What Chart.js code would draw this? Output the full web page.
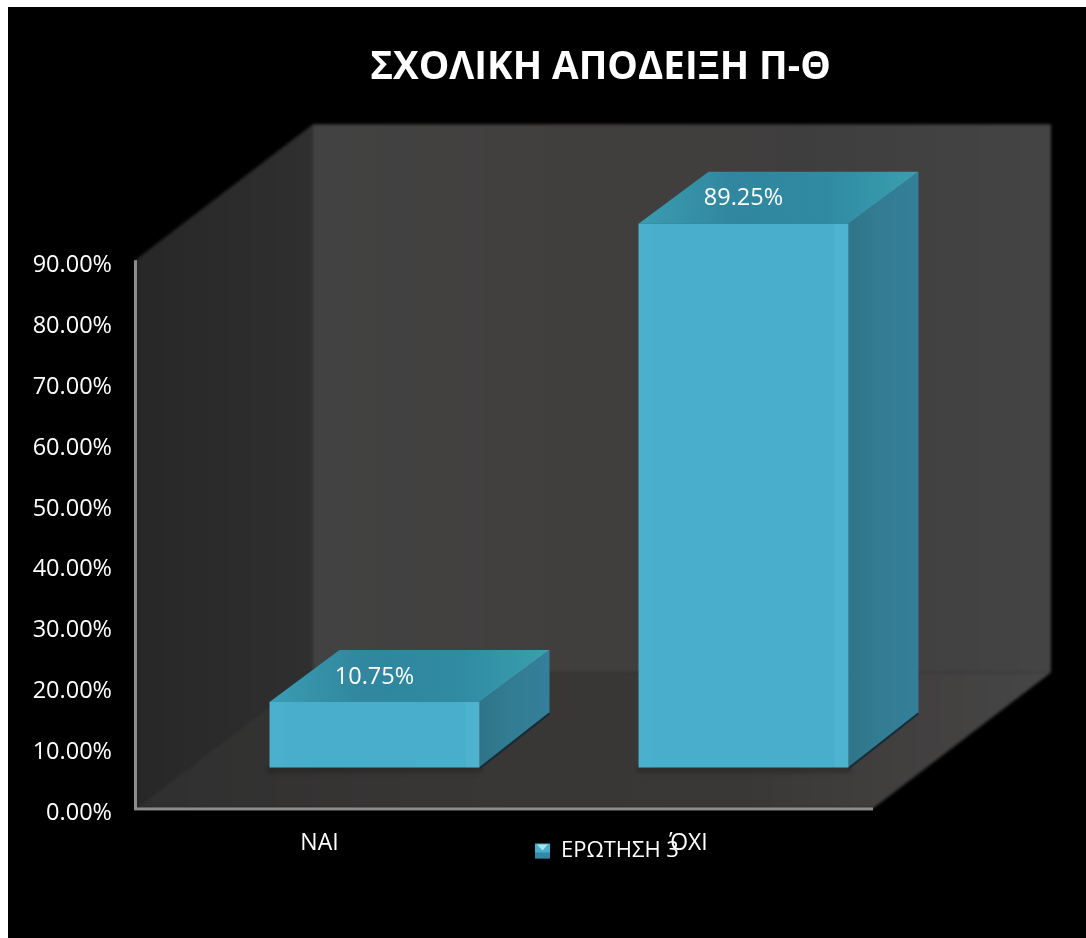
<!DOCTYPE html>
<html>
<head>
<meta charset="utf-8">
<title>ΣΧΟΛΙΚΗ ΑΠΟΔΕΙΞΗ Π-Θ</title>
<script src="https://cdn.jsdelivr.net/npm/chart.js"></script>
<style>
    html, body { margin: 0; padding: 0; background: #fff; }
    canvas { display: block; }
</style>
</head>
<body>
<canvas id="chart" width="1086" height="938"></canvas>
<script>
const titleText = 'ΣΧΟΛΙΚΗ ΑΠΟΔΕΙΞΗ Π-Θ';
const seriesName = 'ΕΡΩΤΗΣΗ 3';
const categories = ['ΝΑΙ', 'ΌΧΙ'];
const seriesValues = [10.75, 89.25];
const yMax = 90;
const yStep = 10;

const fontFamily = '"Open Sans", sans-serif';

// the fake 3D box: how far the back wall sits behind the axes
const wallDepthX = 178;
const wallDepthY = 136;
const wallLift = 5;       // floor line sits a little above the zero tick label
// where the bars stand on the floor, and how deep they are
const barShiftX = 55;
const barShiftY = -46;
const barDepthX = 70;
const barDepthY = 52;

function poly(ctx, pts, fill) {
    ctx.beginPath();
    pts.forEach((p, i) => i ? ctx.lineTo(p[0], p[1]) : ctx.moveTo(p[0], p[1]));
    ctx.closePath();
    ctx.fillStyle = fill;
    ctx.fill();
}

function hGrad(ctx, x0, x1, stops) {
    const g = ctx.createLinearGradient(x0, 0, x1, 0);
    stops.forEach((c, i) => g.addColorStop(i / (stops.length - 1), c));
    return g;
}

// black page block, leaves the thin white edge of the screenshot
const backdrop = {
    id: 'backdrop',
    beforeDraw(chart) {
        const ctx = chart.ctx;
        ctx.save();
        ctx.fillStyle = '#000';
        ctx.fillRect(8, 7, chart.width - 8, chart.height - 7);
        ctx.restore();
    }
};

// moves title and legend off their default spots
const placeBoxes = {
    id: 'placeBoxes',
    afterLayout(chart) {
        chart.titleBlock.left += 164;
        chart.titleBlock.right += 164;
        chart.legend.left = 535;
        chart.legend.top = 840;
    }
};

// back wall, side wall and floor, painted apart so the blur leaves no seams
const walls = {
    id: 'walls',
    beforeDatasetsDraw(chart) {
        const ctx = chart.ctx;
        const { left, right, top, bottom } = chart.chartArea;
        const t = top - wallLift;
        const b = bottom - wallLift;
        const dx = wallDepthX;
        const dy = wallDepthY;
        const layer = document.createElement('canvas');
        layer.width = chart.width;
        layer.height = chart.height;
        const wctx = layer.getContext('2d');
        poly(wctx, [[left + dx, t - dy], [right + dx, t - dy], [right + dx, b - dy], [left + dx, b - dy]],
            hGrad(wctx, left + dx, right + dx, ['#424242', '#413f3e', '#3f3e3e', '#454445']));
        poly(wctx, [[left, b], [right, b], [right + dx, b - dy], [left + dx, b - dy]],
            hGrad(wctx, left, right + dx, ['#2f2f2f', '#383635', '#3a3837', '#474646']));
        poly(wctx, [[left, t], [left + dx, t - dy], [left + dx, b - dy], [left, b]],
            hGrad(wctx, left, left + dx, ['#272727', '#2b2b2b', '#2f2f2f']));
        ctx.save();
        ctx.filter = 'blur(1.5px)';
        ctx.drawImage(layer, 0, 0);
        ctx.restore();
        // axis edges
        ctx.save();
        ctx.fillStyle = '#8c8c8c';
        ctx.fillRect(left - 1, t, 3, b - t + 1);
        ctx.fillRect(left - 1, b - 1, right - left + 1, 3);
        ctx.restore();
    }
};

// top and side of every bar, then shift the bar itself onto the floor
const bars3d = {
    id: 'bars3d',
    beforeDatasetDraw(chart, args) {
        const ctx = chart.ctx;
        ctx.save();
        args.meta.data.forEach(bar => {
            const x0 = bar.x - bar.width / 2 + barShiftX;
            const x1 = bar.x + bar.width / 2 + barShiftX;
            const y0 = bar.y + barShiftY;
            const y1 = bar.base + barShiftY;
            const dx = barDepthX;
            const dy = barDepthY;
            // dark contact shadow on the floor
            ctx.save();
            ctx.filter = 'blur(2px)';
            ctx.fillStyle = 'rgba(20,20,20,0.4)';
            ctx.fillRect(x0 - 2, y1, x1 - x0 + 4, 5);
            ctx.restore();
            poly(ctx, [[x1, y0], [x1 + dx, y0 - dy], [x1 + dx, y1 - dy - 3], [x1, y1]],
                hGrad(ctx, x1, x1 + dx, ['#2f7489', '#337d93', '#347f9a']));
            poly(ctx, [[x0, y0], [x1, y0], [x1 + dx, y0 - dy], [x0 + dx, y0 - dy]],
                hGrad(ctx, x0, x1 + dx, ['#3a9cb2', '#30879f', '#2f8aa2', '#3a9fb0']));
            // dark lower edge of the side face
            ctx.strokeStyle = 'rgba(12,40,56,0.8)';
            ctx.lineWidth = 2;
            ctx.beginPath();
            ctx.moveTo(x1, y1 + 1);
            ctx.lineTo(x1 + dx, y1 - dy - 2);
            ctx.stroke();
        });
        ctx.restore();
        ctx.save();
        ctx.translate(barShiftX, barShiftY);
    },
    afterDatasetDraw(chart, args) {
        const ctx = chart.ctx;
        ctx.restore();
        ctx.save();
        args.meta.data.forEach((bar, i) => {
            const x0 = bar.x - bar.width / 2 + barShiftX;
            const x1 = bar.x + bar.width / 2 + barShiftX;
            const y0 = bar.y + barShiftY;
            const y1 = bar.base + barShiftY;
            // lighter bevel along the right side of the front face
            ctx.fillStyle = 'rgba(120,220,235,0.12)';
            ctx.fillRect(x1 - 14, y0, 14, y1 - y0);
            ctx.fillStyle = 'rgba(120,220,235,0.06)';
            ctx.fillRect(x0, y0, 14, y1 - y0);
            // value labels sit on the top face
            ctx.font = '23.5px ' + fontFamily;
            ctx.fillStyle = '#fff';
            ctx.textAlign = 'center';
            ctx.textBaseline = 'middle';
            ctx.fillText(seriesValues[i].toFixed(2) + '%', bar.x + barShiftX, y0 - 25);
        });
        ctx.restore();
    }
};

// small bright notch on the legend swatch
const legendSwatch = {
    id: 'legendSwatch',
    afterDraw(chart) {
        const ctx = chart.ctx;
        const box = chart.legend.legendHitBoxes[0];
        const x = box.left;
        const y = box.top + (box.height - 15) / 2;
        ctx.save();
        poly(ctx, [[x + 2, y + 1], [x + 13, y + 1], [x + 7.5, y + 7]], '#a6e4ee');
        poly(ctx, [[x, y + 9], [x + 15, y + 9], [x + 15, y + 15], [x, y + 15]], 'rgba(30,90,120,0.45)');
        ctx.restore();
    }
};

new Chart(document.getElementById('chart'), {
    type: 'bar',
    data: {
        labels: categories,
        datasets: [{
            label: seriesName,
            data: seriesValues,
            backgroundColor: '#48aecb',
            borderWidth: 0,
            clip: false,
            barPercentage: 0.569,
            categoryPercentage: 1
        }]
    },
    plugins: [backdrop, placeBoxes, walls, bars3d, legendSwatch],
    options: {
        responsive: false,
        animation: false,
        layout: { padding: { left: 0, right: 213, top: 0, bottom: 32.6 } },
        plugins: {
            title: {
                display: true,
                text: titleText,
                color: '#fff',
                font: { family: fontFamily, size: 38.5, weight: 'bold', lineHeight: 1.2 },
                padding: { top: 45, bottom: 174 }
            },
            legend: {
                position: 'bottom',
                align: 'start',
                labels: {
                    color: '#fff',
                    font: { family: fontFamily, size: 22 },
                    boxWidth: 15,
                    boxHeight: 15,
                    padding: 0
                }
            },
            tooltip: { enabled: false }
        },
        scales: {
            x: {
                afterFit(scale) { scale.height = 60; },
                grid: { display: false, drawTicks: false },
                border: { display: false },
                ticks: {
                    color: '#fff',
                    padding: 16,
                    font: { family: fontFamily, size: 23 }
                }
            },
            y: {
                min: 0,
                max: yMax,
                afterFit(scale) { scale.width = 135; },
                grid: { display: false, drawTicks: false },
                border: { display: false },
                ticks: {
                    stepSize: yStep,
                    color: '#fff',
                    padding: 23,
                    font: { family: fontFamily, size: 23.5 },
                    callback: v => v.toFixed(2) + '%'
                }
            }
        }
    }
});
</script>
</body>
</html>
